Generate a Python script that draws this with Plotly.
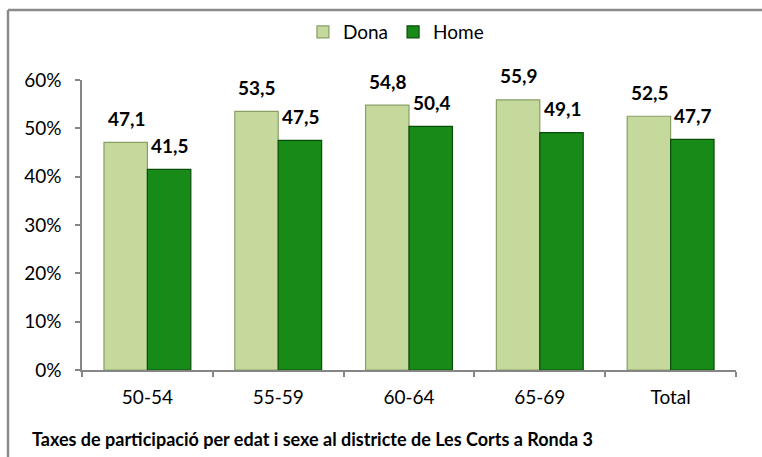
import plotly.graph_objects as go

categories = ["50-54", "55-59", "60-64", "65-69", "Total"]
dona = [47.1, 53.5, 54.8, 55.9, 52.5]
home = [41.5, 47.5, 50.4, 49.1, 47.7]
tick_vals = [0, 10, 20, 30, 40, 50, 60]
tick_text = ["0%", "10%", "20%", "30%", "40%", "50%", "60%"]
title_text = "Taxes de participació per edat i sexe al districte de Les Corts a Ronda 3"

W, H = 762, 457
L, R, T, B = 82, 26, 80, 87
pw, ph = W - L - R, H - T - B
BARGAP = 0.336

def fmt(v):
    return f"{v:.1f}".replace(".", ",")

font_fam = "Lato, Open Sans, sans-serif"

fig = go.Figure()
fig.add_trace(go.Bar(
    name="Dona", x=categories, y=dona,
    marker=dict(color="#c5d99c", line=dict(color="#8a9f66", width=1.2)),
))
fig.add_trace(go.Bar(
    name="Home", x=categories, y=home,
    marker=dict(color="#178a17", line=dict(color="#0a4d0a", width=1.2)),
))

def px_x(p):
    return (p - L) / pw

def px_y(p):
    return (H - B - p) / ph

# data labels, anchored at bar tops in data coordinates
cat_px = pw / len(categories)
half_bar = cat_px * (1 - BARGAP) / 4
annotations = []
for series, sign in ((dona, -1), (home, 1)):
    for c, v in zip(categories, series):
        annotations.append(dict(
            x=c, y=v, xref="x", yref="y", text=fmt(v), showarrow=False,
            xshift=sign * half_bar + 1, yshift=24, yanchor="middle", xanchor="center",
            font=dict(size=19, family=font_fam, color="black", weight="bold"),
        ))

annotations.append(dict(
    text=title_text, xref="paper", yref="paper",
    x=px_x(30), y=px_y(439), xanchor="left", yanchor="middle",
    showarrow=False, font=dict(size=18, family=font_fam, color="black", weight="bold"),
))

fig.update_layout(
    width=W, height=H,
    margin=dict(l=L, r=R, t=T, b=B),
    paper_bgcolor="white", plot_bgcolor="white",
    barmode="group", bargap=BARGAP, bargroupgap=0.0,
    font=dict(family=font_fam, size=19, color="black"),
    showlegend=True,
    legend=dict(orientation="h", x=0.48, xanchor="center", y=px_y(32), yanchor="middle",
                font=dict(size=19), itemwidth=30, tracegroupgap=0),
    xaxis=dict(showline=True, linecolor="#868686", linewidth=1.5, ticks="outside",
               tickson="boundaries", ticklen=5, tickcolor="#868686", tickwidth=1.5,
               ticklabelstandoff=9,
               tickfont=dict(size=19), showgrid=False, fixedrange=True),
    yaxis=dict(range=[0, 60], tickmode="array", tickvals=tick_vals, ticktext=tick_text,
               showline=True, linecolor="#868686", linewidth=1.5, ticks="outside",
               ticklen=5, tickcolor="#868686", tickwidth=1.5, showgrid=False,
               ticklabelstandoff=10,
               zeroline=False, tickfont=dict(size=19), fixedrange=True),
    annotations=annotations,
    shapes=[
        dict(type="line", xref="paper", yref="paper",
             x0=px_x(8), x1=px_x(762), y0=px_y(10), y1=px_y(10),
             line=dict(color="#8a8a8a", width=2.5), layer="below"),
        dict(type="line", xref="paper", yref="paper",
             x0=px_x(8), x1=px_x(8), y0=px_y(10), y1=px_y(457),
             line=dict(color="#8a8a8a", width=2.5), layer="below"),
    ],
)

fig.write_html("out.html", post_script="document.body.style.margin='0';",
               config={"displayModeBar": False})
